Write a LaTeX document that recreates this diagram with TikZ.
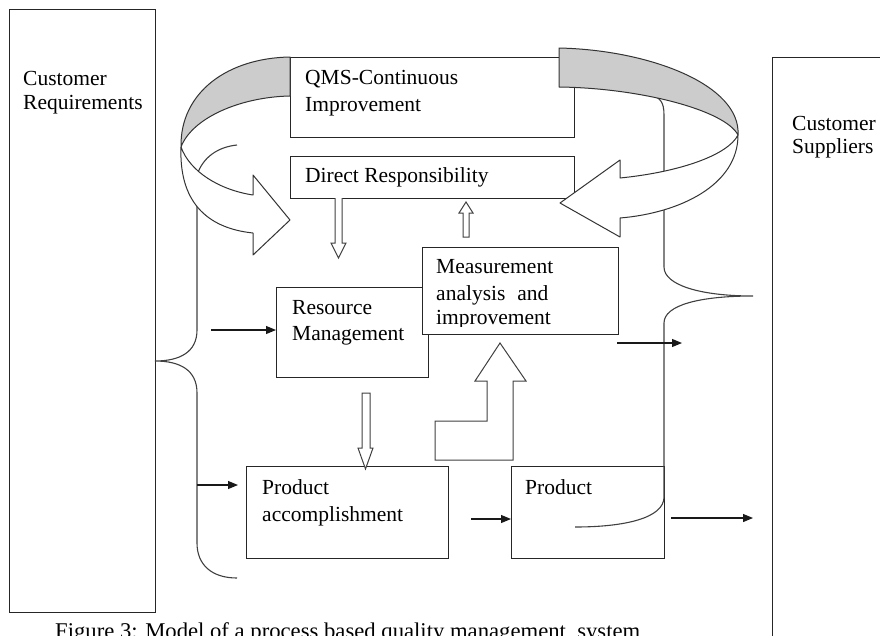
\documentclass[tikz,border=0pt]{standalone}
\usepackage{fontspec}
\setmainfont{Liberation Serif}
\usetikzlibrary{arrows.meta}
\begin{document}
\begin{tikzpicture}[x=1pt,y=-1pt,
  box/.style={draw=black!85, fill=white, line width=1.1pt, inner sep=0pt, anchor=north west},
  lbl/.style={anchor=base west, inner sep=0pt, font=\fontsize{21.5}{24}\selectfont, text=black},
  flow/.style={draw=black!90, line width=1.1pt, -{Triangle[length=10pt,width=8pt]}},
  hollow/.style={draw=black!75, fill=white, line width=1pt, line join=miter},
  band/.style={draw=black!80, line width=1pt, line join=round},
  brace/.style={draw=black!75, line width=1.1pt}]
\useasboundingbox (0,0) rectangle (880,635);
\clip (0,0) rectangle (880,635);

% outer boxes
\node[box, minimum width=146pt, minimum height=603pt] (custreq) at (9,9) {};
\node[box, minimum width=140pt, minimum height=620pt] (custsup) at (772,57) {};

% process boxes
\node[box, minimum width=284pt, minimum height=80pt] (qms) at (290,57) {};
\node[box, minimum width=284pt, minimum height=42pt] (dresp) at (290,156) {};
\node[box, minimum width=152pt, minimum height=90pt] (resource) at (276,287) {};
\node[box, minimum width=196pt, minimum height=87pt] (meas) at (422,247) {};
\node[box, minimum width=202pt, minimum height=92pt] (pacc) at (246,466) {};
\node[box, minimum width=153pt, minimum height=92pt, fill=none] (product) at (511,466) {};

% braces
\draw[brace] (237,145) .. controls (218,147) and (203,157) .. (197,175) -- (197,330)
  .. controls (197,352) and (180,361) .. (155,361)
  .. controls (180,361) and (197,370) .. (197,393) -- (197,543)
  .. controls (197,565) and (212,578) .. (237,578);
\draw[brace] (650,95) .. controls (660,97) and (664,102) .. (664,115) -- (664,267)
  .. controls (664,285) and (700,296) .. (753,296)
  .. controls (700,296) and (664,305) .. (664,323) -- (664,497)
  .. controls (664,518) and (625,527) .. (575,527);

% circular improvement band: back part (grey) and front part with heads
\draw[band, fill=gray!40] (290,57) .. controls (228,58) and (180,92) .. (181,147)
  .. controls (192,118) and (240,97) .. (290,96) -- cycle;
\draw[band, fill=white] (181,147) .. controls (179,200) and (205,228) .. (253,233)
  -- (253,255) -- (290,220) -- (253,175) -- (253,195)
  .. controls (220,190) and (190,172) .. (181,147) -- cycle;
\draw[band, fill=gray!40] (559,48) .. controls (650,50) and (741,85) .. (738,135)
  .. controls (725,110) and (640,88) .. (559,87) -- cycle;
\draw[band, fill=white] (738,135) .. controls (738,185) and (680,213) .. (620,218)
  -- (620,237) -- (560,203) -- (620,160) -- (620,178)
  .. controls (680,172) and (728,155) .. (738,135) -- cycle;

% hollow arrows
\draw[hollow] (335,198) -- (335,243) -- (331,243) -- (338.5,258) -- (346,243) -- (342,243) -- (342,198);
\draw[hollow] (463,237) -- (463,213) -- (459,213) -- (466,202) -- (473,213) -- (469,213) -- (469,237) -- cycle;
\draw[hollow] (362,393) -- (362,448) -- (358,448) -- (365.5,469) -- (373,448) -- (370,448) -- (370,393) -- cycle;
\draw[hollow] (435,460) -- (435,421) -- (487,421) -- (487,381) -- (475,381) -- (500,343)
  -- (526,381) -- (513,381) -- (513,460) -- cycle;

% flow arrows
\coordinate (inR) at (211,330);
\coordinate (inP) at (197,485);
\coordinate (inPend) at (238,485);
\coordinate (pa2p) at (471,519);
\coordinate (mout) at (617,343);
\coordinate (moutend) at (682,343);
\coordinate (pout) at (671,518);
\coordinate (poutend) at (753,518);
\draw[flow] (inR) -- (inR -| resource.west);
\draw[flow] (inP) -- (inPend);
\draw[flow] (pa2p) -- (pa2p -| product.west);
\draw[flow] (mout) -- (moutend);
\draw[flow] (pout) -- (poutend);

% labels
\node[lbl] (t1) at (23,85) {Customer};
\node[lbl] (t2) at (23,109) {Requirements};
\node[lbl] (t3) at (792,130) {Customer};
\node[lbl] (t4) at (792,153) {Suppliers};
\node[lbl] (t5) at (305,84) {QMS-Continuous};
\node[lbl] (t6) at (305,111) {Improvement};
\node[lbl] (t7) at (305,182) {Direct Responsibility};
\node[lbl] (t8) at (292,314) {Resource};
\node[lbl] (t9) at (292,340) {Management};
\begin{scope}
  \clip (422,247) rectangle (618,326);
  \node[lbl] (t10) at (436,273) {Measurement};
  \node[lbl] (t11) at (436,300) {analysis\hspace{0.55em}and};
  \node[lbl] (t12) at (436,324) {improvement};
\end{scope}
\node[lbl] (t13) at (262,494) {Product};
\node[lbl] (t14) at (262,521) {accomplishment};
\node[lbl] (t15) at (525,494) {Product};
\node[lbl, font=\fontsize{22.5}{24}\selectfont] (cap) at (55,638)
  {\resizebox{585pt}{\height}{Figure 3: Model of a process based quality management\ \ system}};
\end{tikzpicture}
\end{document}
